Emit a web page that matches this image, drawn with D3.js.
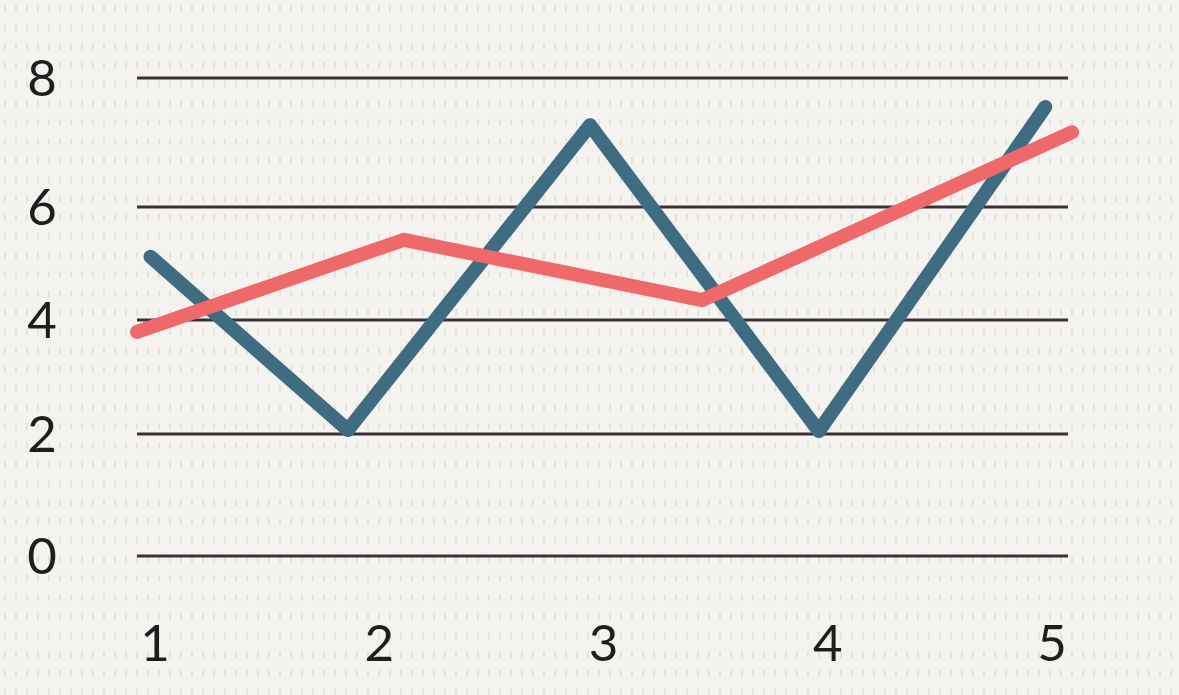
<!DOCTYPE html>
<html>
<head>
<meta charset="utf-8">
<script src="https://cdn.jsdelivr.net/npm/d3@7"></script>
<style>
  html, body { margin: 0; padding: 0; background: #f4f3f0; }
  svg { display: block; }
</style>
</head>
<body>
<svg id="chart" width="1179" height="695"></svg>
<script>
// ---- data ----
const xTickLabels = ["1", "2", "3", "4", "5"];
const xTickValues = [1, 2, 3, 4, 5];
const yTickValues = [0, 2, 4, 6, 8];

const blueX = [0.98, 1.86, 2.94, 3.96, 4.97];
const blueY = [5.12, 2.07, 7.27, 2.05, 7.55];

const redX = [0.92, 2.11, 3.44, 5.09];
const redY = [3.79, 5.42, 4.35, 7.16];

// ---- drawing ----
const W = 1179, H = 695;
const svg = d3.select("#chart");

// dotted paper texture
const defs = svg.append("defs");
const pat = defs.append("pattern")
  .attr("id", "dots").attr("patternUnits", "userSpaceOnUse")
  .attr("width", 11).attr("height", 19);
pat.append("rect").attr("x", 4).attr("y", 5).attr("width", 2).attr("height", 7)
  .attr("fill", "#e6e3db");
svg.append("rect").attr("width", W).attr("height", H).attr("fill", "#f4f3f0");
svg.append("rect").attr("width", W).attr("height", H).attr("fill", "url(#dots)");

const x = d3.scaleLinear().domain([1, 5]).range([155, 1052]);
const y = d3.scaleLinear().domain([0, 2, 4, 6, 8]).range([556, 434, 320, 207, 78]);

const gridX0 = 137, gridX1 = 1068;

// grid lines
svg.append("g").selectAll("line").data(yTickValues).join("line")
  .attr("x1", gridX0).attr("x2", gridX1)
  .attr("y1", d => y(d)).attr("y2", d => y(d))
  .attr("stroke", "#3b3038").attr("stroke-width", 3);

const fontFam = "'Lato', 'Open Sans', sans-serif";

// y labels
svg.append("g").selectAll("text").data(yTickValues).join("text")
  .attr("x", 42).attr("y", d => y(d))
  .attr("dy", "0.36em")
  .attr("text-anchor", "middle")
  .attr("font-family", fontFam)
  .attr("font-weight", 400)
  .attr("font-size", 51)
  .attr("fill", "#1e1e1e")
  .text(d => d);

// x labels
svg.append("g").selectAll("text").data(xTickValues).join("text")
  .attr("x", d => x(d)).attr("y", 661)
  .attr("text-anchor", "middle")
  .attr("font-family", fontFam)
  .attr("font-weight", 400)
  .attr("font-size", 51)
  .attr("fill", "#1e1e1e")
  .text((d, i) => xTickLabels[i]);

const line = d3.line().x(d => x(d[0])).y(d => y(d[1]));

svg.append("path")
  .datum(blueX.map((v, i) => [v, blueY[i]]))
  .attr("d", line)
  .attr("fill", "none")
  .attr("stroke", "#3f6c80")
  .attr("stroke-width", 14)
  .attr("stroke-linecap", "round")
  .attr("stroke-linejoin", "round");

svg.append("path")
  .datum(redX.map((v, i) => [v, redY[i]]))
  .attr("d", line)
  .attr("fill", "none")
  .attr("stroke", "#f0696a")
  .attr("stroke-width", 14)
  .attr("stroke-linecap", "round")
  .attr("stroke-linejoin", "round");
</script>
</body>
</html>
